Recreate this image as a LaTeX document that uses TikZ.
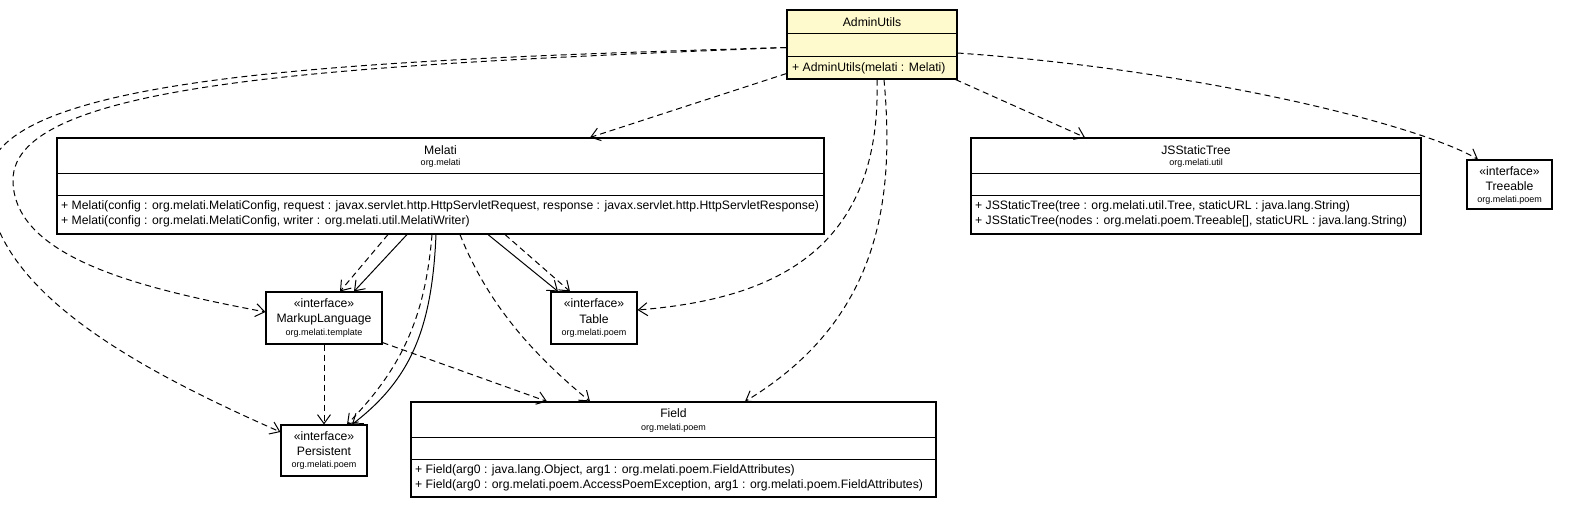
\documentclass[tikz,border=0pt]{standalone}
\usepackage{fontspec}
\setmainfont{Liberation Sans}
\usetikzlibrary{arrows.meta}
\definecolor{classyellow}{HTML}{FFFACD}

\tikzset{
  classbox/.style={draw, line width=1.1pt, fill=white, inner sep=0pt},
  title/.style={inner sep=0pt, font=\fontsize{12.2}{14}\selectfont},
  pkg/.style={inner sep=0pt, font=\fontsize{9}{10}\selectfont},
  member/.style={inner sep=0pt, anchor=west, font=\fontsize{12.2}{14}\selectfont},
  dep/.style={line width=1pt, dash pattern=on 6pt off 4pt, -{Straight Barb[length=9pt,width=13pt]}},
  uses/.style={line width=1pt, -{Straight Barb[length=9pt,width=13pt]}},
}

\begin{document}
\begin{tikzpicture}[x=1pt, y=-1pt]
  \useasboundingbox[fill=white] (0,0) rectangle (1569,509);

  % classes
  \node[classbox, fill=classyellow, minimum width=170, minimum height=69] (admin) at (872,44.5) {};
  \node[classbox, minimum width=767, minimum height=96] (melati) at (440.5,186) {};
  \node[classbox, minimum width=450, minimum height=96] (jsst) at (1196,186) {};
  \node[classbox, minimum width=85, minimum height=49] (treeable) at (1509.5,184.5) {};
  \node[classbox, minimum width=116, minimum height=52] (markup) at (324,318) {};
  \node[classbox, minimum width=86, minimum height=52] (table) at (594,318) {};
  \node[classbox, minimum width=86, minimum height=51] (persistent) at (324,450.5) {};
  \node[classbox, minimum width=525, minimum height=95] (field) at (673.5,449.5) {};

  \foreach \b/\d in {admin/24, admin/47, melati/36, melati/58, jsst/36, jsst/58, field/36, field/58}
    \draw[line width=1.1pt] ([yshift=-\d pt]\b.north west) -- ([yshift=-\d pt]\b.north east);

  % texts
  \node[title] (adminname) at (872,22) {AdminUtils};
  \node[member] (adminop) at (792,68) {+ AdminUtils(melati : Melati)};

  \node[title] (melatiname) at (440.5,150) {Melati};
  \node[pkg] (melatipkg) at (440.5,163.5) {org.melati};
  \node[member] (melatiop1) at (61,206) {+ Melati(config : org.melati.MelatiConfig, request : javax.servlet.http.HttpServletRequest, response : javax.servlet.http.HttpServletResponse)};
  \node[member] (melatiop2) at (61,221) {+ Melati(config : org.melati.MelatiConfig, writer : org.melati.util.MelatiWriter)};

  \node[title] (jsstname) at (1196,150) {JSStaticTree};
  \node[pkg] (jsstpkg) at (1196,163.5) {org.melati.util};
  \node[member] (jsstop1) at (975,206) {+ JSStaticTree(tree : org.melati.util.Tree, staticURL : java.lang.String)};
  \node[member] (jsstop2) at (975,221) {+ JSStaticTree(nodes : org.melati.poem.Treeable[], staticURL : java.lang.String)};

  \node[title] (treeablest) at (1509.5,171) {«interface»};
  \node[title] (treeablename) at (1509.5,186.5) {Treeable};
  \node[pkg] (treeablepkg) at (1509.5,200.5) {org.melati.poem};

  \node[title] (markupst) at (324,303) {«interface»};
  \node[title] (markupname) at (324,319) {MarkupLanguage};
  \node[pkg] (markuppkg) at (324,333) {org.melati.template};

  \node[title] (tablest) at (594,303) {«interface»};
  \node[title] (tablename) at (594,319) {Table};
  \node[pkg] (tablepkg) at (594,333) {org.melati.poem};

  \node[title] (persistentst) at (324,436) {«interface»};
  \node[title] (persistentname) at (324,451) {Persistent};
  \node[pkg] (persistentpkg) at (324,465) {org.melati.poem};

  \node[title] (fieldname) at (673.5,413) {Field};
  \node[pkg] (fieldpkg) at (673.5,428) {org.melati.poem};
  \node[member] (fieldop1) at (415,470) {+ Field(arg0 : java.lang.Object, arg1 : org.melati.poem.FieldAttributes)};
  \node[member] (fieldop2) at (415,485.5) {+ Field(arg0 : org.melati.poem.AccessPoemException, arg1 : org.melati.poem.FieldAttributes)};

  % dependencies of AdminUtils
  \draw[dep] ([yshift=-3pt]admin.west) .. controls (350,60) and (-12,75) .. (-12,180)
    .. controls (-12,290) and (140,370) .. ([yshift=18.5pt]persistent.west);
  \draw[dep] ([yshift=-3pt]admin.west) .. controls (350,65) and (13,80) .. (13,180)
    .. controls (13,260) and (150,290) .. ([yshift=6pt]markup.west);
  \draw[dep] ([yshift=6pt]admin.south west) -- ([xshift=149.5pt]melati.north);
  \draw[dep] ([xshift=-2pt]admin.south east) -- ([xshift=-111pt]jsst.north);
  \draw[dep] ([yshift=-8.5pt]admin.east) .. controls (1200,70) and (1420,125) .. ([xshift=-31.5pt]treeable.north);
  \draw[dep] ([xshift=5pt]admin.south) .. controls (882,260) and (760,300) .. ([yshift=8pt]table.east);
  \draw[dep] ([xshift=12pt]admin.south) .. controls (895,200) and (880,320) .. ([xshift=71.5pt]field.north);

  % dependencies of Melati
  \draw[dep] ([xshift=-52.5pt]melati.south) -- ([xshift=16pt]markup.north);
  \draw[uses] ([xshift=-33.5pt]melati.south) -- ([xshift=30pt]markup.north);
  \draw[uses] ([xshift=-4.5pt]melati.south) .. controls (432,330) and (410,380) .. ([xshift=28pt]persistent.north);
  \draw[dep] ([xshift=-8.5pt]melati.south) .. controls (425,320) and (400,370) .. ([xshift=23pt]persistent.north);
  \draw[dep] ([xshift=19.5pt]melati.south) .. controls (490,310) and (540,360) .. ([xshift=-83.5pt]field.north);
  \draw[uses] ([xshift=47.5pt]melati.south) -- ([xshift=-36pt]table.north);
  \draw[dep] ([xshift=64.5pt]melati.south) -- ([xshift=-24pt]table.north);

  % dependencies of MarkupLanguage
  \draw[dep] (markup.south) -- (persistent.north);
  \draw[dep] ([yshift=2pt]markup.south east) -- ([xshift=-126.5pt]field.north);
\end{tikzpicture}
\end{document}
